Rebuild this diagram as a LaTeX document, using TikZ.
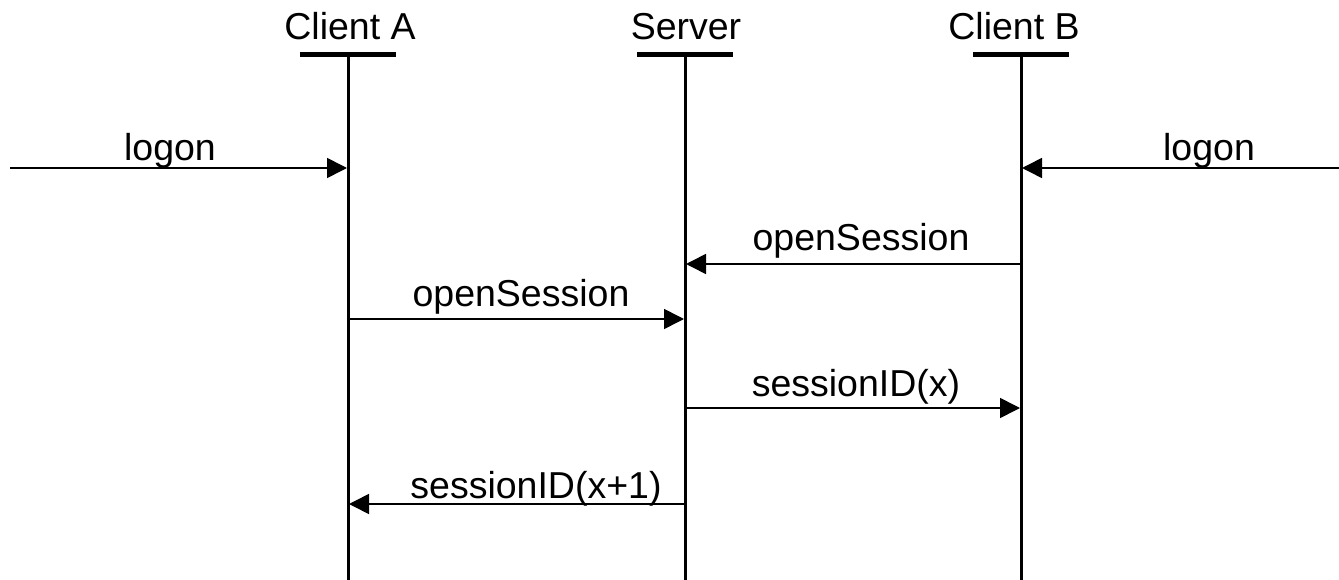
\documentclass[tikz,border=0pt]{standalone}
\usepackage{fontspec}
\setmainfont{Liberation Sans}
\usetikzlibrary{arrows.meta}
\begin{document}
\begin{tikzpicture}[x=1pt,y=-1pt,
  lbl/.style={font=\fontsize{37.5}{42}\selectfont, inner sep=0pt, anchor=base},
  head/.style={line width=5pt},
  life/.style={line width=3pt},
  msg/.style={line width=1.6pt, -{Triangle[length=20pt,width=20pt]}, shorten >=1pt}]
\useasboundingbox (0,0) rectangle (1339,580);
% heads
\node[lbl] (tA) at (350,40) {Client A};
\node[lbl] (tS) at (686,40) {Server};
\node[lbl] (tB) at (1014,40) {Client B};
\foreach \n/\x in {A/348,S/685,B/1021}{
  \coordinate (\n top) at (\x,55);
  \coordinate (\n bot) at (\x,580);
  \draw[head] (\x-48,55) -- (\x+48,55);
  \draw[life] (\n top) -- (\n bot);
}
% message endpoints
\coordinate (L0) at (10,168);
\coordinate (A1) at (348,168);
\coordinate (R0) at (1339,168);
\coordinate (B1) at (1021,168);
\coordinate (B2) at (1021,264);
\coordinate (S2) at (685,264);
\coordinate (A3) at (348,319);
\coordinate (S3) at (685,319);
\coordinate (S4) at (685,408);
\coordinate (B4) at (1021,408);
\coordinate (S5) at (685,504);
\coordinate (A5) at (348,504);
\draw[msg] (L0) -- (A1);
\draw[msg] (R0) -- (B1);
\draw[msg] (B2) -- (S2);
\draw[msg] (A3) -- (S3);
\draw[msg] (S4) -- (B4);
\draw[msg] (S5) -- (A5);
% labels
\node[lbl] (m1) at (170,161) {logon};
\node[lbl] (m2) at (1209,161) {logon};
\node[lbl] (m3) at (861,251) {openSession};
\node[lbl] (m4) at (521,306) {openSession};
\node[lbl] (m5) at (856,396) {sessionID(x)};
\node[lbl] (m6) at (536,498) {sessionID(x+1)};
\end{tikzpicture}
\end{document}
